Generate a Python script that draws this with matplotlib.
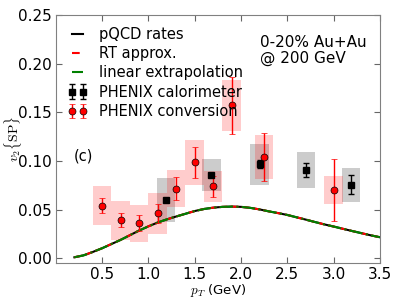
import numpy as np
import matplotlib
matplotlib.use("Agg")
import matplotlib.pyplot as plt

plt.rcParams['mathtext.fontset'] = 'cm'
plt.rcParams['font.family'] = 'DejaVu Sans'

# theory curves (pQCD rates, RT approx., linear extrapolation overlap)
pt_th = [0.2, 0.3, 0.4, 0.5, 0.6, 0.7, 0.8, 0.9, 1.0, 1.1, 1.2, 1.3, 1.4, 1.5,
         1.6, 1.7, 1.8, 1.9, 2.0, 2.1, 2.2, 2.3, 2.4, 2.5, 2.6, 2.7, 2.8, 2.9,
         3.0, 3.1, 3.2, 3.3, 3.4, 3.5]
v2_pqcd = [0.001, 0.003, 0.0065, 0.0103, 0.0146, 0.0189, 0.0237, 0.0285, 0.0328,
           0.0367, 0.0400, 0.0429, 0.0457, 0.0485, 0.0506, 0.0520, 0.0528, 0.0531,
           0.0528, 0.0518, 0.0502, 0.0482, 0.0464, 0.0445, 0.0421, 0.0397, 0.0372,
           0.0348, 0.0326, 0.0303, 0.0280, 0.0258, 0.0236, 0.0216]
v2_rt = v2_pqcd
v2_lin = v2_pqcd

# PHENIX calorimeter
pt_cal = [1.19, 1.68, 2.2, 2.7, 3.19]
v2_cal = [0.0598, 0.0859, 0.0965, 0.0907, 0.0756]
err_cal = [0.002, 0.002, 0.004, 0.007, 0.0095]
sys_cal = [0.0225, 0.0165, 0.021, 0.0186, 0.0175]

# PHENIX conversion
pt_conv = [0.5, 0.7, 0.9, 1.1, 1.3, 1.5, 1.7, 1.9, 2.25, 3.0]
v2_conv = [0.054, 0.039, 0.036, 0.046, 0.0714, 0.0986, 0.0738, 0.157, 0.104, 0.0704]
err_conv = [0.008, 0.007, 0.008, 0.010, 0.012, 0.016, 0.011, 0.029, 0.025, 0.032]
sys_conv = [0.020, 0.020, 0.019, 0.021, 0.019, 0.023, 0.016, 0.026, 0.023, 0.0145]

fig = plt.figure(figsize=(3.99, 2.99), dpi=100)
ax = fig.add_axes([0.140, 0.120, 0.812, 0.830])

ax.plot(pt_th, v2_pqcd, color='k', lw=1.5, ls='-', label='pQCD rates')
ax.plot(pt_th, v2_rt, color='r', lw=1.5, ls='--', label='RT approx.')
ax.plot(pt_th, v2_lin, color='g', lw=1.5, ls='-.', label='linear extrapolation')

for x, y, s in zip(pt_cal, v2_cal, sys_cal):
    ax.bar(x, 2 * s, bottom=y - s, width=0.2, color='k', alpha=0.2, lw=1)
for x, y, s in zip(pt_conv, v2_conv, sys_conv):
    ax.bar(x, 2 * s, bottom=y - s, width=0.2, color='r', alpha=0.2, lw=1)

ax.errorbar(pt_cal, v2_cal, yerr=err_cal, fmt='s', color='k', ms=5,
            mec='k', capsize=2, elinewidth=1, label='PHENIX calorimeter')
ax.errorbar(pt_conv, v2_conv, yerr=err_conv, fmt='o', color='r', ecolor='r', ms=5,
            mec='k', mew=0.5, capsize=2, elinewidth=1, label='PHENIX conversion')

ax.text(2.2, 0.229, '0-20% Au+Au\n@ 200 GeV', fontsize=11, va='top',
        linespacing=1.0)
ax.text(0.19, 0.105, '(c)', fontsize=10.5, va='center')

ax.set_xlim(0.0, 3.5)
ax.set_ylim(-0.005, 0.25)
ax.set_xticks([0.5, 1.0, 1.5, 2.0, 2.5, 3.0, 3.5])
ax.set_yticks([0.0, 0.05, 0.10, 0.15, 0.20, 0.25])
ax.set_yticklabels(['0.00', '0.05', '0.10', '0.15', '0.20', '0.25'])
ax.tick_params(direction='in', top=True, right=True, labelsize=11, color='0.4',
               length=4, pad=3)
for sp in ax.spines.values():
    sp.set_color('0.5')

ax.set_xlabel(r'$p_T$ (GeV)', fontsize=9.5, labelpad=0)
ax.set_ylabel(r'$v_2\{\mathrm{SP}\}$', fontsize=10, va='center')
ax.yaxis.set_label_coords(-0.132, 0.5)

ax.legend(loc='upper left', frameon=False, numpoints=2, fontsize=10.5,
          handlelength=1.35, handletextpad=0.8, labelspacing=0.3,
          borderaxespad=0.4)

fig.savefig('out.png', dpi=100)
